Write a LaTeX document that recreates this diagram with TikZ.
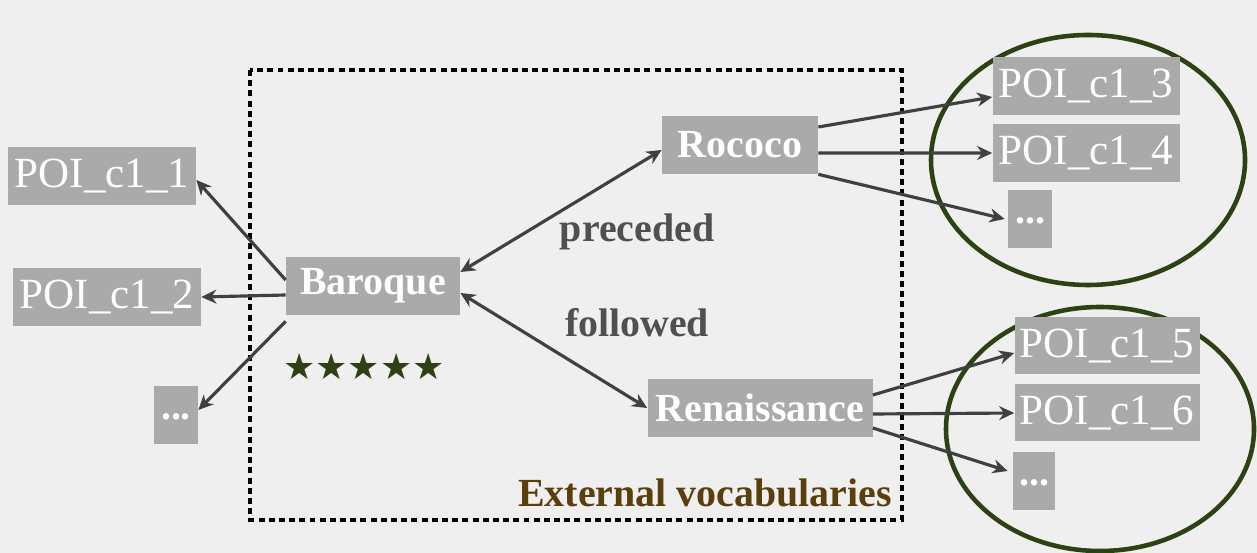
\documentclass[tikz,border=0pt]{standalone}
\usepackage{fontspec}
\setmainfont{Liberation Serif}
\newfontfamily\symfont{DejaVu Sans}
\usetikzlibrary{arrows.meta}
\definecolor{bgc}{HTML}{EFEFEF}
\definecolor{boxc}{HTML}{AAAAAA}
\definecolor{arrc}{HTML}{404040}
\definecolor{labc}{HTML}{505050}
\definecolor{extc}{HTML}{5A3E0B}
\definecolor{grn}{HTML}{2D4212}
\tikzset{
  pbox/.style={fill=boxc, text=white, inner sep=0pt, minimum height=58*0.02cm, font=\fontsize{24.5}{28}\selectfont},
  cbox/.style={pbox, font=\fontsize{22.7}{26}\selectfont\bfseries},
  dbox/.style={pbox, font=\fontsize{22.7}{26}\selectfont\bfseries},
  arr/.style={draw=arrc, line width=1.8pt, -{Stealth[length=0.3cm,width=0.28cm]}},
  darr/.style={draw=arrc, line width=1.8pt, {Stealth[length=0.3cm,width=0.28cm]}-{Stealth[length=0.3cm,width=0.28cm]}},
  lab/.style={text=labc, font=\fontsize{22.7}{26}\selectfont\bfseries},
  grp/.style={draw=grn, line width=2.6pt},
}
\begin{document}
\begin{tikzpicture}[x=0.02cm, y=-0.02cm]
\fill[bgc] (0,0) rectangle (1257,553);
\useasboundingbox (0,0) rectangle (1257,553);

% dashed box
\draw[line width=1.8pt, dash pattern=on 3.4pt off 2.4pt] (250,70) rectangle (902,520);

% group ellipses
\draw[grp] (1088,160) ellipse [x radius=157, y radius=125];
\draw[grp] (1100,429) ellipse [x radius=154, y radius=122];

% nodes
\node[pbox, minimum width=188*0.02cm] (p1) at (102,176) {POI\_c1\_1};
\node[pbox, minimum width=188*0.02cm] (p2) at (107,297) {POI\_c1\_2};
\node[dbox, minimum width=44*0.02cm] (d1) at (176,415) {\raisebox{-0.25em}{...}};
\node[cbox, minimum width=174*0.02cm] (bar) at (373,286) {Baroque};
\node[cbox, minimum width=156*0.02cm] (roc) at (740,145) {Rococo};
\node[cbox, minimum width=225*0.02cm] (ren) at (760,408) {Renaissance};
\node[pbox, minimum width=187*0.02cm] (p3) at (1086,86) {POI\_c1\_3};
\node[pbox, minimum width=187*0.02cm] (p4) at (1086,153) {POI\_c1\_4};
\node[dbox, minimum width=44*0.02cm] (d2) at (1030,219) {\raisebox{-0.25em}{...}};
\node[pbox, minimum width=185*0.02cm, minimum height=57*0.02cm] (p5) at (1107,346) {POI\_c1\_5};
\node[pbox, minimum width=185*0.02cm, minimum height=57*0.02cm] (p6) at (1107,413) {POI\_c1\_6};
\node[dbox, minimum width=42*0.02cm] (d3) at (1034,481) {\raisebox{-0.25em}{...}};

% labels
\node[lab] (prec) at (637,232) {preceded};
\node[lab] (foll) at (637,323) {followed};
\node[lab, text=extc] (ext) at (705,493) {External vocabularies};
\node[text=grn, inner sep=0pt, font=\symfont\fontsize{20.5}{22}\selectfont] (stars) at (364,367) {★★★★★};

% connectors
\draw[arr] ([yshift=0.12cm]bar.west) -- ([yshift=-0.08cm]p1.east);
\draw[arr] ([yshift=-0.18cm]bar.west) -- (p2.east);
\draw[arr] ([yshift=-0.12cm]bar.south west) -- ([yshift=0.1cm]d1.east);
\draw[darr] ([yshift=0.28cm]bar.east) -- ([yshift=-0.1cm]roc.west);
\draw[darr] ([yshift=-0.14cm]bar.east) -- (ren.west);
\draw[arr] ([yshift=0.36cm]roc.east) -- ([yshift=-0.22cm]p3.west);
\draw[arr] ([yshift=-0.16cm]roc.east) -- ([yshift=0]p4.west);
\draw[arr] (roc.south east) -- ([xshift=-0.06cm]d2.west);
\draw[arr] ([yshift=0.26cm]ren.east) -- ([yshift=-0.14cm]p5.west);
\draw[arr] ([yshift=-0.12cm]ren.east) -- (p6.west);
\draw[arr] ([yshift=-0.4cm]ren.east) -- ([yshift=0.2cm,xshift=-0.1cm]d3.west);
\end{tikzpicture}
\end{document}
